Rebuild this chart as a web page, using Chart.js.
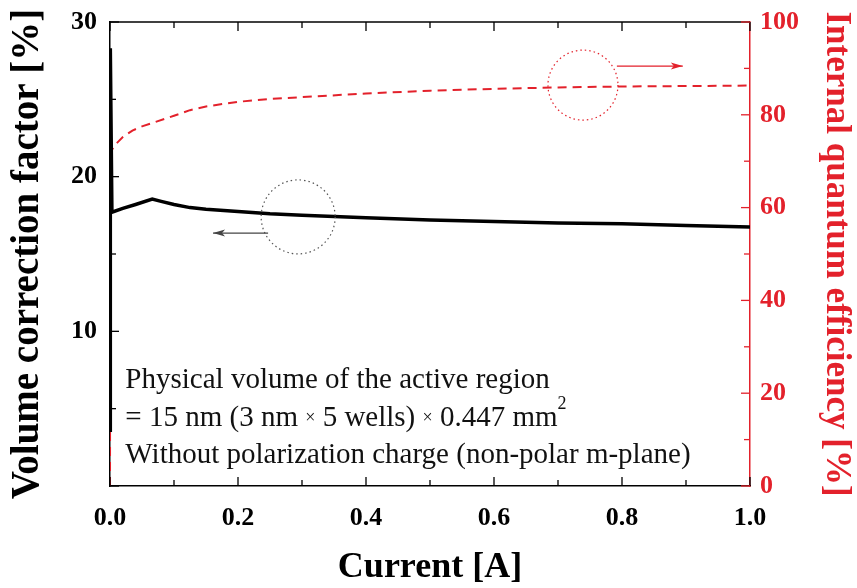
<!DOCTYPE html>
<html>
<head>
<meta charset="utf-8">
<script src="https://cdn.jsdelivr.net/npm/chart.js@4.4.1/dist/chart.umd.min.js"></script>
<style>
  body { margin: 0; background: #fff; }
  #wrap { width: 857px; height: 588px; }
</style>
</head>
<body>
<div id="wrap"><canvas id="chart"></canvas></div>
<script>
// volume correction factor (left axis)
const currentBlack = [0, 0.0005, 0.003, 0.02, 0.04, 0.066, 0.08, 0.1, 0.125, 0.15, 0.2, 0.25, 0.3, 0.4, 0.5, 0.6, 0.7, 0.8, 0.9, 1.0];
const volumeFactor = [3.6, 28.3, 17.7, 17.95, 18.2, 18.55, 18.4, 18.2, 18.0, 17.9, 17.75, 17.6, 17.5, 17.35, 17.2, 17.1, 17.0, 16.95, 16.85, 16.75];

// internal quantum efficiency (right axis)
const currentRed = [0, 0.0005, 0.01, 0.02, 0.035, 0.05, 0.07, 0.1, 0.125, 0.15, 0.2, 0.25, 0.3, 0.4, 0.5, 0.6, 0.7, 0.8, 0.9, 1.0];
const iqe = [0, 72, 73.8, 75.2, 76.6, 77.5, 78.4, 79.8, 81.0, 81.8, 82.8, 83.4, 83.8, 84.6, 85.2, 85.6, 85.9, 86.1, 86.2, 86.3];

const xTicks = [0, 0.2, 0.4, 0.6, 0.8, 1.0];
const leftTicks = [10, 20, 30];
const rightTicks = [0, 20, 40, 60, 80, 100];

const RED = "#e3212b";
const SERIF = "'Liberation Serif', 'Times New Roman', serif";

function pts(xs, ys){
    return xs.map((x, i) => ({x: x, y: ys[i]}));
}

function noPad(s){
    s.paddingTop = 0; s.paddingBottom = 0;
    s.paddingLeft = 0; s.paddingRight = 0;
}

// ticks inward, top frame, circles, arrows, note text
const extras = {
    id: "extras",
    afterDraw(chart){
        let ctx = chart.ctx;
        let a = chart.chartArea;
        let sx = chart.scales.x, sl = chart.scales.y, sr = chart.scales.y1;
        ctx.save();

        // top frame
        ctx.strokeStyle = "#000";
        ctx.lineWidth = 1.5;
        ctx.beginPath();
        ctx.moveTo(a.left, a.top);
        ctx.lineTo(a.right, a.top);
        ctx.stroke();

        ctx.lineWidth = 1.3;
        for(let i = 0; i <= 10; i++){
            let px = sx.getPixelForValue(i / 10);
            let len = i % 2 === 0 ? 9 : 6;
            ctx.strokeStyle = "#000";
            ctx.beginPath();
            ctx.moveTo(px, a.bottom); ctx.lineTo(px, a.bottom - len);
            ctx.moveTo(px, a.top); ctx.lineTo(px, a.top + len);
            ctx.stroke();
        }
        for(let v = 0; v <= 30; v += 5){
            let py = sl.getPixelForValue(v);
            let len = v % 10 === 0 ? 9 : 6;
            ctx.strokeStyle = "#000";
            ctx.beginPath();
            ctx.moveTo(a.left, py); ctx.lineTo(a.left + len, py);
            ctx.stroke();
        }
        for(let v = 0; v <= 100; v += 10){
            let py = sr.getPixelForValue(v);
            let len = v % 20 === 0 ? 9 : 6;
            ctx.strokeStyle = RED;
            ctx.beginPath();
            ctx.moveTo(a.right, py); ctx.lineTo(a.right - len, py);
            ctx.stroke();
        }

        // dotted circles
        ctx.lineWidth = 1.2;
        ctx.setLineDash([1.5, 3]);
        ctx.strokeStyle = "#555";
        ctx.beginPath();
        ctx.arc(sx.getPixelForValue(0.294), sl.getPixelForValue(17.4), 37, 0, Math.PI * 2);
        ctx.stroke();
        ctx.strokeStyle = RED;
        ctx.beginPath();
        ctx.arc(sx.getPixelForValue(0.739), sr.getPixelForValue(86.4), 35, 0, Math.PI * 2);
        ctx.stroke();
        ctx.setLineDash([]);

        // arrows
        function arrow(x1, x2, y, color){
            ctx.strokeStyle = color;
            ctx.fillStyle = color;
            ctx.lineWidth = 1.2;
            ctx.beginPath();
            ctx.moveTo(x1, y); ctx.lineTo(x2, y);
            ctx.stroke();
            let d = x2 > x1 ? 1 : -1;
            ctx.beginPath();
            ctx.moveTo(x2, y);
            ctx.lineTo(x2 - d * 12, y - 3.5);
            ctx.lineTo(x2 - d * 9, y);
            ctx.lineTo(x2 - d * 12, y + 3.5);
            ctx.closePath();
            ctx.fill();
        }
        arrow(sx.getPixelForValue(0.247), sx.getPixelForValue(0.161), sl.getPixelForValue(16.35), "#444");
        arrow(sx.getPixelForValue(0.792), sx.getPixelForValue(0.895), sr.getPixelForValue(90.5), RED);

        // note text
        ctx.fillStyle = "#111";
        ctx.textBaseline = "middle";
        let tx = sx.getPixelForValue(0.024);
        function runs(parts, y){
            let x = tx;
            parts.forEach(p => {
                ctx.font = (p.size || 29) + "px " + SERIF;
                ctx.fillText(p.t, x, y + (p.dy || 0));
                x += ctx.measureText(p.t).width;
            });
        }
        runs([{t: "Physical volume of the active region"}], sl.getPixelForValue(6.8));
        runs([{t: "= 15 nm (3 nm "}, {t: "×", size: 18}, {t: " 5 wells) "}, {t: "×", size: 18},
              {t: " 0.447 mm"}, {t: "2", size: 18, dy: -14}], sl.getPixelForValue(4.4));
        runs([{t: "Without polarization charge (non-polar m-plane)"}], sl.getPixelForValue(1.95));

        ctx.restore();
    }
};

new Chart(document.getElementById("chart"), {
    type: "line",
    data: {
        datasets: [{
            label: "Volume correction factor",
            data: pts(currentBlack, volumeFactor),
            borderColor: "#000",
            borderWidth: 3.5,
            pointRadius: 0,
            yAxisID: "y"
        }, {
            label: "Internal quantum efficiency",
            data: pts(currentRed, iqe),
            borderColor: RED,
            borderWidth: 2,
            borderDash: [9, 6],
            pointRadius: 0,
            yAxisID: "y1"
        }]
    },
    options: {
        animation: false,
        responsive: true,
        maintainAspectRatio: false,
        layout: { padding: { top: 22, left: 0, right: 0, bottom: 0 } },
        plugins: { legend: { display: false }, tooltip: { enabled: false } },
        scales: {
            x: {
                type: "linear", position: "bottom", min: 0, max: 1,
                afterBuildTicks: s => { s.ticks = xTicks.map(v => ({value: v})); },
                afterFit: s => { s.height = 102; noPad(s); },
                grid: { drawOnChartArea: false, drawTicks: false },
                border: { color: "#000", width: 1.5 },
                ticks: { color: "#000", padding: 17, font: { family: SERIF, size: 26, weight: "bold" },
                         callback: v => v.toFixed(1) },
                title: { display: true, text: "Current [A]", color: "#000", padding: 0,
                         font: { family: SERIF, size: 36, weight: "bold", lineHeight: 1.1 } }
            },
            y: {
                position: "left", min: 0, max: 30,
                afterBuildTicks: s => { s.ticks = leftTicks.map(v => ({value: v})); },
                afterFit: s => { s.width = 110; noPad(s); },
                grid: { drawOnChartArea: false, drawTicks: false },
                border: { color: "#000", width: 1.5 },
                ticks: { color: "#000", padding: 13, font: { family: SERIF, size: 26, weight: "bold" } },
                title: { display: true, text: "Volume correction factor [%]", color: "#000", padding: { top: 5, bottom: 0 },
                         font: { family: SERIF, size: 39, weight: "bold" } }
            },
            y1: {
                position: "right", min: 0, max: 100,
                afterBuildTicks: s => { s.ticks = rightTicks.map(v => ({value: v})); },
                afterFit: s => { s.width = 107; noPad(s); },
                grid: { drawOnChartArea: false, drawTicks: false },
                border: { color: RED, width: 1.5 },
                ticks: { color: RED, padding: 10, font: { family: SERIF, size: 26, weight: "bold" } },
                title: { display: true, text: "Internal quantum efficiency [%]", color: RED, padding: 0,
                         font: { family: SERIF, size: 35, weight: "bold" } }
            }
        }
    },
    plugins: [extras]
});
</script>
</body>
</html>
